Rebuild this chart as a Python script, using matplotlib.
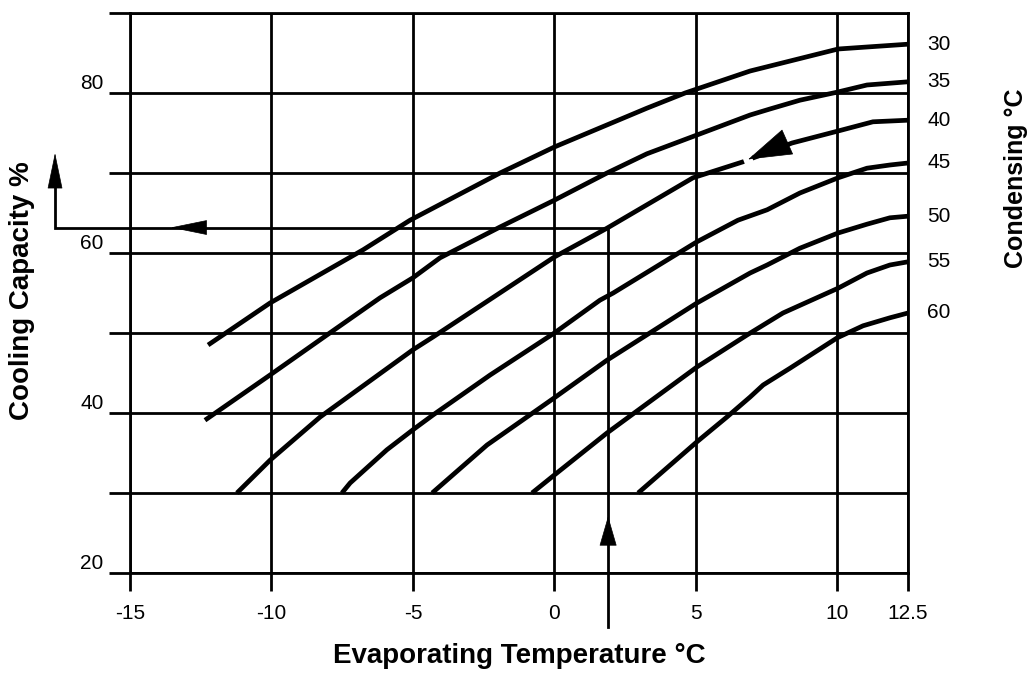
import numpy as np
import matplotlib
matplotlib.use("Agg")
import matplotlib.pyplot as plt

plt.rcParams["font.family"] = ["Liberation Sans", "DejaVu Sans"]

# Axis ticks
x_ticks = [-15, -10, -5, 0, 5, 10, 12.5]
x_tick_labels = ["-15", "-10", "-5", "0", "5", "10", "12.5"]
y_ticks = [20, 30, 40, 50, 60, 70, 80, 90]
y_tick_labels = ["20", "", "40", "", "60", "", "80", ""]

# Condensing temperatures (°C) of the capacity curves
condensing = [30, 35, 40, 45, 50, 55, 60]

# Evaporating temperature (°C) / cooling capacity (%) per condensing temperature
t30 = [-12.24, -10.05, -6.76, -5.10, -1.92, 0.0, 3.27, 4.62, 6.92, 8.22, 10.03, 11.05, 12.5]
c30 = [48.5, 53.75, 60.4, 64.1, 70.0, 73.25, 78.1, 80.0, 82.75, 83.9, 85.5, 85.75, 86.1]

t35 = [-12.35, -10.05, -8.04, -6.16, -5.0, -4.04, -1.92, 0.0, 1.86, 3.27, 5.04, 6.92, 7.62, 8.68, 9.99, 11.05, 12.5]
c35 = [39.1, 44.75, 49.75, 54.4, 56.9, 59.4, 63.25, 66.6, 70.0, 72.4, 74.75, 77.25, 78.0, 79.1, 80.1, 81.0, 81.4]

t40 = [-11.22, -10.05, -8.28, -5.0, -4.29, -2.10, 0.0, 1.86, 4.90, 6.67, 8.40, 10.03, 11.26, 12.5]
c40 = [30.0, 34.1, 39.5, 47.9, 49.5, 54.6, 59.5, 63.1, 69.4, 71.4, 73.75, 75.25, 76.4, 76.6]

t45 = [-7.51, -7.22, -5.92, -5.0, -4.29, -2.27, 0.0, 1.61, 2.08, 5.04, 6.49, 7.52, 8.68, 10.03, 11.05, 11.86, 12.5]
c45 = [30.0, 31.25, 35.4, 37.9, 39.75, 44.75, 50.0, 54.1, 55.0, 61.4, 64.1, 65.4, 67.5, 69.4, 70.6, 71.0, 71.25]

t50 = [-4.32, -2.38, 0.0, 1.86, 5.04, 6.92, 7.52, 8.68, 10.03, 11.05, 11.86, 12.5]
c50 = [30.0, 36.0, 41.9, 46.6, 53.75, 57.5, 58.5, 60.6, 62.5, 63.6, 64.4, 64.6]

t55 = [-0.79, 0.0, 1.86, 5.04, 6.81, 8.08, 10.03, 11.05, 11.86, 12.5]
c55 = [30.0, 32.25, 37.5, 45.75, 49.75, 52.5, 55.6, 57.5, 58.5, 58.9]

t60 = [2.96, 5.04, 6.10, 6.92, 7.38, 8.33, 10.0, 10.91, 11.86, 12.5]
c60 = [30.0, 36.4, 39.5, 42.0, 43.5, 45.6, 49.4, 50.9, 51.9, 52.5]

evap_series = [t30, t35, t40, t45, t50, t55, t60]
cap_series = [c30, c35, c40, c45, c50, c55, c60]

# Worked example: evaporating temperature read up to the 40 °C curve, then across
example_evap = 1.9
example_cap = float(np.interp(example_evap, t40, c40))

fig = plt.figure(figsize=(10.29, 6.77), dpi=100)
ax = fig.add_axes([130 / 1029, 104 / 677, 778 / 1029, 560 / 677])
ax.set_xlim(-15, 12.5)
ax.set_ylim(20, 90)

GRID_LW = 2.0
CURVE_LW = 3.4

ax.set_xticks(x_ticks)
ax.set_xticklabels(x_tick_labels)
ax.set_yticks(y_ticks)
ax.set_yticklabels(y_tick_labels)
ax.tick_params(axis="x", direction="out", length=13, width=GRID_LW, pad=9,
               labelsize=15, color="black")
ax.tick_params(axis="y", direction="out", length=15, width=GRID_LW, pad=4,
               labelsize=15, color="black")
for lab in ax.get_yticklabels():
    lab.set_verticalalignment("bottom")

ax.grid(True, color="black", linewidth=GRID_LW)
ax.set_axisbelow(True)
for sp in ax.spines.values():
    sp.set_linewidth(GRID_LW)
    sp.set_color("black")

# Capacity curves
for t, c in zip(evap_series, cap_series):
    ax.plot(t, c, color="black", lw=CURVE_LW, solid_capstyle="butt",
            solid_joinstyle="round", zorder=3)

# Condensing temperature labels at the curve ends
for cond, t, c in zip(condensing, evap_series, cap_series):
    ax.annotate(str(cond), xy=(t[-1], c[-1]), xytext=(14, 0),
                textcoords="offset points", ha="left", va="center",
                fontsize=15, annotation_clip=False)


def head(tip, base, length_pt, half_w_pt):
    ax.annotate("", xy=tip, xytext=base, xycoords="data", textcoords="data",
                arrowprops=dict(arrowstyle=f"-|>,head_length={length_pt},head_width={half_w_pt}",
                                mutation_scale=1, color="black", lw=0.5,
                                shrinkA=0, shrinkB=0),
                annotation_clip=False, zorder=5)


# Reading path: up from the evaporating temperature, left to the capacity axis
left_x = -17.65
ax.plot([example_evap, example_evap, left_x, left_x],
        [13.25, example_cap, example_cap, 69.0],
        color="black", lw=GRID_LW, clip_on=False, zorder=4,
        solid_joinstyle="miter")
head((example_evap, 27.1), (example_evap, 23.6), 20, 5.8)
head((-13.56, example_cap), (-12.38, example_cap), 24.5, 5)
head((left_x, 72.5), (left_x, 68.4), 24, 5)

# Direction arrow on the 40 °C curve, with a small break ahead of its tip
gap_x = np.linspace(6.70, 7.0, 6)
ax.plot(gap_x, np.interp(gap_x, t40, c40), color="white", lw=6,
        solid_capstyle="butt", zorder=4)
head((6.85, 71.7), (8.19, 73.8), 30, 9.4)

ax.set_xlabel("Evaporating Temperature °C", fontsize=20, fontweight="bold")
ax.xaxis.set_label_coords(0.5, -0.125)
ax.set_ylabel("Cooling Capacity %", fontsize=20, fontweight="bold")
ax.yaxis.set_label_coords(-0.122, 0.505)
ax.text(1.139, 0.705, "Condensing °C", transform=ax.transAxes, rotation=90,
        ha="center", va="center", fontsize=18, fontweight="bold")

fig.savefig("out.png", dpi=100)
